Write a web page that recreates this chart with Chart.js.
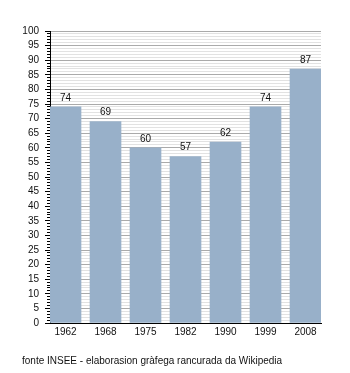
<!DOCTYPE html>
<html>
<head>
<meta charset="utf-8">
<script src="https://cdn.jsdelivr.net/npm/chart.js@4/dist/chart.umd.min.js"></script>
<style>
  html, body { margin: 0; padding: 0; background: #fff; }
  #wrap { position: relative; width: 350px; height: 373px; }
  #note { position: absolute; left: 22px; top: 355px; font: 10px "Liberation Sans", Arial, sans-serif; color: #111; white-space: nowrap; }
</style>
</head>
<body>
<div id="wrap">
  <canvas id="c" width="350" height="373"></canvas>
  <div id="note">fonte INSEE - elaborasion gràfega rancurada da Wikipedia</div>
</div>
<script>
const years = ["1962", "1968", "1975", "1982", "1990", "1999", "2008"];
const values = [74, 69, 60, 57, 62, 74, 87];
const yMin = 0, yMax = 100, majorStep = 5, minorStep = 1;

const FONT = "'Liberation Sans', Arial, sans-serif";
const BAR_COLOR = "#98b0c9";

const valueLabels = {
  id: 'valueLabels',
  afterDatasetsDraw(chart) {
    const ctx = chart.ctx;
    const meta = chart.getDatasetMeta(0);
    ctx.save();
    ctx.font = "10px " + FONT;
    ctx.fillStyle = "#111";
    ctx.textAlign = "center";
    ctx.textBaseline = "bottom";
    meta.data.forEach((bar, i) => {
      ctx.fillText(String(values[i]), bar.x, bar.y - 4);
    });
    ctx.restore();
  }
};

new Chart(document.getElementById('c'), {
  type: 'bar',
  data: {
    datasets: [{
      data: values.map((v, i) => ({ x: i, y: v })),
      backgroundColor: BAR_COLOR,
      borderWidth: 0,
      barThickness: 31
    }]
  },
  options: {
    responsive: false,
    animation: false,
    devicePixelRatio: 1,
    layout: { padding: { left: 0, right: 29, top: 31, bottom: 30 } },
    plugins: { legend: { display: false }, tooltip: { enabled: false } },
    scales: {
      x: {
        type: 'linear',
        offset: false,
        min: -0.3875,
        max: 6.3875,
        afterFit(s) { s.height = 20; },
        afterBuildTicks(s) { s.ticks = years.map((_, i) => ({ value: i })); },
        grid: { display: false, drawTicks: false, offset: false },
        border: { display: true, color: '#000', width: 1 },
        ticks: {
          padding: 3,
          autoSkip: false,
          maxRotation: 0,
          color: '#111',
          font: { family: FONT, size: 10 },
          callback: (v) => years[v]
        }
      },
      y: {
        min: yMin,
        max: yMax,
        afterFit(s) { s.width = 50; },
        border: { display: true, color: '#000', width: 1 },
        grid: {
          color: (c) => (c.tick && c.tick.value % majorStep === 0) ? '#aaaaaa' : '#e2e2e2',
          tickColor: '#000',
          tickLength: 5,
          tickBorderDash: (c) => (c.tick && c.tick.value % majorStep === 0) ? [] : [0, 2, 3, 0],
          drawTicks: true
        },
        ticks: {
          stepSize: minorStep,
          autoSkip: false,
          padding: 6,
          color: '#111',
          font: { family: FONT, size: 10 },
          callback: (v) => v % majorStep === 0 ? String(v) : ''
        }
      }
    }
  },
  plugins: [valueLabels]
});
</script>
</body>
</html>
